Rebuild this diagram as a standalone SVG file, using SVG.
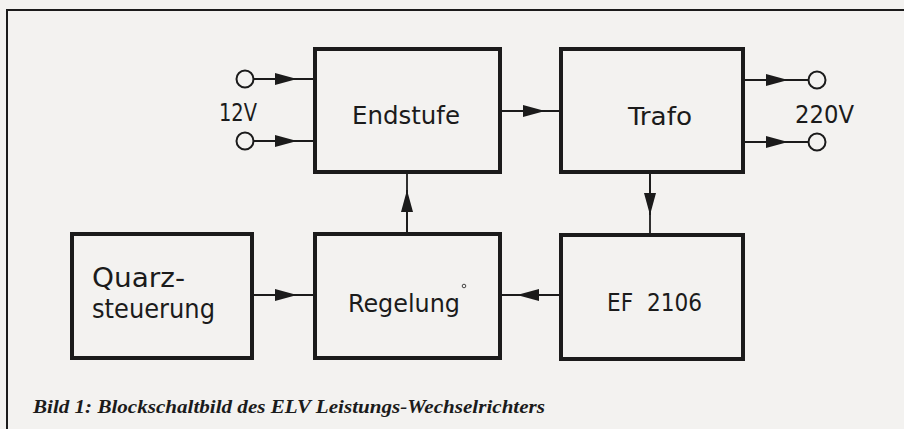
<svg xmlns="http://www.w3.org/2000/svg" width="904" height="429" viewBox="0 0 904 429">
<defs>
<style>
.box{fill:none;stroke:#1b1b1b;stroke-width:4}
.ln{stroke:#1b1b1b;stroke-width:1.8;fill:none}
.term{fill:#f3f2f0;stroke:#1b1b1b;stroke-width:2}
.lbl{font-family:"DejaVu Sans Condensed","DejaVu Sans",sans-serif;font-size:25px;fill:#1b1b1b}
.big{font-size:27px}
.cap{font-family:"Liberation Serif",serif;font-size:18.5px;font-weight:bold;font-style:italic;fill:#1b1b1b}
</style>
<marker id="ah" viewBox="0 0 22 12" refX="22" refY="6" markerWidth="22" markerHeight="12" markerUnits="userSpaceOnUse" orient="auto">
<path d="M0,0 L22,6 L0,12 Z" fill="#1b1b1b"/>
</marker>
</defs>
<rect x="0" y="0" width="904" height="429" fill="#f3f2f0"/>
<path d="M7,429 V10 H904" fill="none" stroke="#1b1b1b" stroke-width="2"/>

<g id="connectors">
<line class="ln" x1="254" y1="79" x2="315" y2="79"/>
<line class="ln" x1="254" y1="79" x2="297" y2="79" marker-end="url(#ah)"/>
<line class="ln" x1="254" y1="141" x2="315" y2="141"/>
<line class="ln" x1="254" y1="141" x2="297" y2="141" marker-end="url(#ah)"/>
<line class="ln" x1="500" y1="111" x2="561" y2="111"/>
<line class="ln" x1="500" y1="111" x2="545" y2="111" marker-end="url(#ah)"/>
<line class="ln" x1="743" y1="80" x2="808" y2="80"/>
<line class="ln" x1="743" y1="80" x2="788" y2="80" marker-end="url(#ah)"/>
<line class="ln" x1="743" y1="142" x2="808" y2="142"/>
<line class="ln" x1="743" y1="142" x2="788" y2="142" marker-end="url(#ah)"/>
<line class="ln" x1="650" y1="172" x2="650" y2="235"/>
<line class="ln" x1="650" y1="172" x2="650" y2="215" marker-end="url(#ah)"/>
<line class="ln" x1="407" y1="234" x2="407" y2="172"/>
<line class="ln" x1="407" y1="234" x2="407" y2="190" marker-end="url(#ah)"/>
<line class="ln" x1="252" y1="295" x2="315" y2="295"/>
<line class="ln" x1="252" y1="295" x2="297" y2="295" marker-end="url(#ah)"/>
<line class="ln" x1="561" y1="295" x2="500" y2="295"/>
<line class="ln" x1="561" y1="295" x2="517" y2="295" marker-end="url(#ah)"/>
</g>

<g id="in12v">
<circle class="term" cx="245" cy="79" r="8.5"/>
<circle class="term" cx="245" cy="141" r="8.5"/>
<text class="lbl" x="219" y="121" textLength="38" lengthAdjust="spacingAndGlyphs">12V</text>
</g>

<g id="out220v">
<circle class="term" cx="817" cy="80" r="8.5"/>
<circle class="term" cx="817" cy="142" r="8.5"/>
<text class="lbl" x="795" y="123" textLength="59" lengthAdjust="spacingAndGlyphs">220V</text>
</g>

<g id="endstufe">
<rect class="box" x="315" y="49" width="185" height="123"/>
<text class="lbl" x="352" y="124" textLength="108" lengthAdjust="spacingAndGlyphs">Endstufe</text>
</g>

<g id="trafo">
<rect class="box" x="561" y="49" width="182" height="123"/>
<text class="lbl" x="628" y="125" textLength="64" lengthAdjust="spacingAndGlyphs">Trafo</text>
</g>

<g id="quarz">
<rect class="box" x="72" y="234" width="180" height="124"/>
<text class="lbl big" x="92" y="287" textLength="93" lengthAdjust="spacingAndGlyphs">Quarz-</text>
<text class="lbl big" x="92" y="318" textLength="123" lengthAdjust="spacingAndGlyphs">steuerung</text>
</g>

<g id="regelung">
<rect class="box" x="315" y="234" width="185" height="124"/>
<text class="lbl" x="348" y="312" textLength="112" lengthAdjust="spacingAndGlyphs">Regelung</text>
<circle cx="464" cy="286" r="1.8" fill="none" stroke="#1b1b1b" stroke-width="0.8"/>
</g>

<g id="ef2106">
<rect class="box" x="561" y="235" width="182" height="124"/>
<text class="lbl" x="607" y="311" textLength="95" lengthAdjust="spacingAndGlyphs" xml:space="preserve">EF  2106</text>
</g>

<text class="cap" x="33" y="413" textLength="512" lengthAdjust="spacingAndGlyphs">Bild 1: Blockschaltbild des ELV Leistungs-Wechselrichters</text>
</svg>
